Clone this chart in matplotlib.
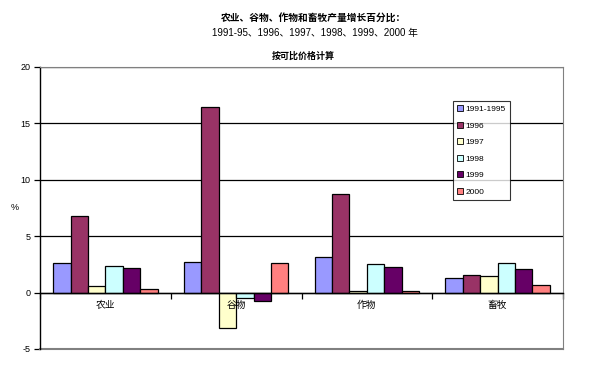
import numpy as np
import matplotlib.pyplot as plt
plt.switch_backend('agg')

plt.rcParams['font.family'] = ['Liberation Sans', 'Noto Sans CJK SC', 'DejaVu Sans']

categories = ['农业', '谷物', '作物', '畜牧']
series = ['1991-1995', '1996', '1997', '1998', '1999', '2000']
values = {
    '1991-1995': [2.63, 2.72, 3.16, 1.30],
    '1996':      [6.83, 16.46, 8.75, 1.60],
    '1997':      [0.62, -3.13, 0.10, 1.48],
    '1998':      [2.40, -0.47, 2.54, 2.63],
    '1999':      [2.19, -0.71, 2.28, 2.10],
    '2000':      [0.33, 2.63, 0.10, 0.71],
}
colors = ['#9999FF', '#993366', '#FFFFCC', '#CCFFFF', '#660066', '#FF8080']
yticks = [-5, 0, 5, 10, 15, 20]

fig = plt.figure(figsize=(5.94, 3.65), dpi=100)
ax = fig.add_axes([40/594, 1-349/365, (563-40)/594, (349-67)/365])

x = np.arange(len(categories))
w = 0.8 / len(series)
for i, s in enumerate(series):
    ax.bar(x - 0.4 + w*(i + 0.5), values[s], w, color=colors[i],
           edgecolor='black', linewidth=0.9, label=s, zorder=3)

ax.set_xlim(-0.5, len(categories) - 0.5)
ax.set_ylim(yticks[0], yticks[-1])
ax.set_yticks(yticks)
ax.set_yticklabels([str(t) for t in yticks], fontsize=6.5)
ax.tick_params(axis='y', direction='out', length=4, width=0.9, pad=3)
ax.set_axisbelow(True)
ax.yaxis.grid(True, color='black', linewidth=0.9)

# category axis at zero
ax.spines['bottom'].set_position(('data', 0))
ax.spines['bottom'].set_linewidth(1.0)
ax.spines['bottom'].set_zorder(4)
ax.spines['left'].set_linewidth(1.0)
ax.spines['top'].set_color('#808080')
ax.spines['right'].set_color('#808080')
ax.axhline(yticks[0], color='#808080', linewidth=1.5, clip_on=False)
ax.set_xticks(np.arange(len(categories) + 1) - 0.5)
ax.set_xticklabels([])
ax.tick_params(axis='x', which='major', direction='out', length=4, width=0.9)

# category names drawn on top of the bars
for xi, c in zip(x, categories):
    ax.text(xi, (349-305)/282, c, transform=ax.get_xaxis_transform(),
            ha='center', va='center', fontsize=7, zorder=6)

fig.text(15/594, 1-207/365, '%', ha='center', va='center', fontsize=6.5)

fig.text(0.527, 1-18/365, '农业、谷物、作物和畜牧产量增长百分比：', ha='center', va='center',
         fontsize=7, fontweight='bold')
fig.text(0.53, 1-33/365, '1991-95、1996、1997、1998、1999、2000 年', ha='center', va='center',
         fontsize=7)
fig.text(0.51, 1-56/365, '按可比价格计算', ha='center', va='center',
         fontsize=6.5, fontweight='bold')

leg = ax.legend(loc='upper left', bbox_to_anchor=((453-40)/523, (349-101)/282),
                fontsize=6, frameon=True, fancybox=False, borderpad=0.5,
                labelspacing=1.05, handlelength=0.7, handleheight=0.7,
                handletextpad=0.3, borderaxespad=0)
leg.get_frame().set_edgecolor('black')
leg.get_frame().set_linewidth(0.8)
leg.set_zorder(7)
for h in leg.legend_handles:
    h.set_linewidth(0.6)

fig.savefig('out.png', dpi=100, facecolor='white')
